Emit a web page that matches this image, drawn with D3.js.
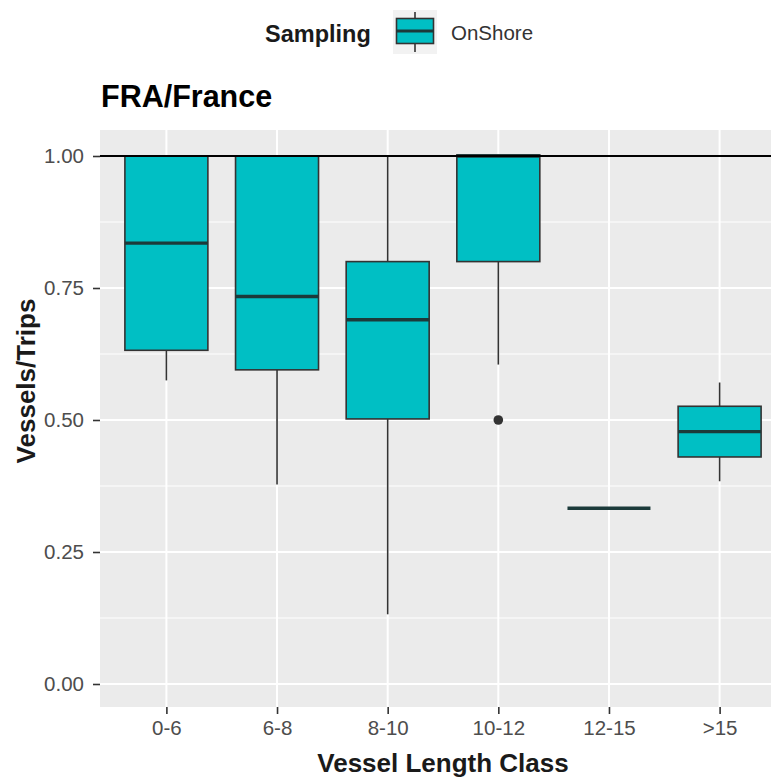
<!DOCTYPE html>
<html>
<head>
<meta charset="utf-8">
<script src="https://cdn.jsdelivr.net/npm/d3@7"></script>
<style>
  html, body { margin: 0; padding: 0; background: #ffffff; }
  svg { display: block; font-family: "Liberation Sans", Arial, sans-serif; }
</style>
</head>
<body>
<svg id="chart" width="771" height="783"></svg>
<script>
// ---- data ----
const categories = ["0-6", "6-8", "8-10", "10-12", "12-15", ">15"];
const lowerWhisker = [0.575, 0.378, 0.132, 0.605, 0.333, 0.384];
const lowerHinge   = [0.632, 0.595, 0.502, 0.800, 0.333, 0.430];
const medians      = [0.835, 0.734, 0.690, 1.000, 0.333, 0.478];
const upperHinge   = [1.000, 1.000, 0.800, 1.002, 0.333, 0.526];
const upperWhisker = [1.000, 1.000, 1.000, 1.002, 0.333, 0.571];
const outliers = [{cat: "10-12", value: 0.5}];
const yTicks = [0, 0.25, 0.5, 0.75, 1];
const yMinor = [0.125, 0.375, 0.625, 0.875];
const refLine = 1.0;
const seriesName = "OnShore";

// ---- layout ----
const svg = d3.select("#chart");
const panel = {left: 100, right: 786, top: 130, bottom: 707};
const fill = "#00BFC4";
const ink = "#333333";

const x = d3.scalePoint().domain(categories).range([panel.left, panel.right]).padding(0.6);
const y = d3.scaleLinear().domain([0, 1]).range([684, 156]);
const boxW = x.step() * 0.75;

// panel background
svg.append("rect").attr("x", panel.left).attr("y", panel.top)
  .attr("width", panel.right - panel.left).attr("height", panel.bottom - panel.top)
  .attr("fill", "#EBEBEB");

// grid
const g = svg.append("g");
g.selectAll("line.minor").data(yMinor).join("line")
  .attr("x1", panel.left).attr("x2", panel.right)
  .attr("y1", d => y(d)).attr("y2", d => y(d))
  .attr("stroke", "#fff").attr("stroke-width", 1);
g.selectAll("line.majorY").data(yTicks).join("line")
  .attr("x1", panel.left).attr("x2", panel.right)
  .attr("y1", d => y(d)).attr("y2", d => y(d))
  .attr("stroke", "#fff").attr("stroke-width", 2);
g.selectAll("line.majorX").data(categories).join("line")
  .attr("x1", d => x(d)).attr("x2", d => x(d))
  .attr("y1", panel.top).attr("y2", panel.bottom)
  .attr("stroke", "#fff").attr("stroke-width", 2);

// boxes
const boxes = categories.map((c, i) => ({
  c, lw: lowerWhisker[i], q1: lowerHinge[i], med: medians[i], q3: upperHinge[i], uw: upperWhisker[i]
}));
const bg = svg.append("g");
bg.selectAll("line.wl").data(boxes).join("line")
  .attr("x1", d => x(d.c)).attr("x2", d => x(d.c))
  .attr("y1", d => y(d.lw)).attr("y2", d => y(d.q1))
  .attr("stroke", ink).attr("stroke-width", 1.6);
bg.selectAll("line.wu").data(boxes).join("line")
  .attr("x1", d => x(d.c)).attr("x2", d => x(d.c))
  .attr("y1", d => y(d.q3)).attr("y2", d => y(d.uw))
  .attr("stroke", ink).attr("stroke-width", 1.6);
bg.selectAll("rect.box").data(boxes).join("rect")
  .attr("x", d => x(d.c) - boxW / 2).attr("width", boxW)
  .attr("y", d => y(d.q3)).attr("height", d => Math.max(0, y(d.q1) - y(d.q3)))
  .attr("fill", fill).attr("stroke", ink).attr("stroke-width", 1.6);
bg.selectAll("line.med").data(boxes).join("line")
  .attr("x1", d => x(d.c) - boxW / 2).attr("x2", d => x(d.c) + boxW / 2)
  .attr("y1", d => y(d.med)).attr("y2", d => y(d.med))
  .attr("stroke", "#1c3a3a").attr("stroke-width", 3.4);
bg.selectAll("circle.out").data(outliers).join("circle")
  .attr("cx", d => x(d.cat)).attr("cy", d => y(d.value)).attr("r", 4.8)
  .attr("fill", ink);

// reference line
svg.append("line").attr("x1", panel.left).attr("x2", panel.right)
  .attr("y1", y(refLine)).attr("y2", y(refLine))
  .attr("stroke", "#000").attr("stroke-width", 2);

// y axis
const yAxis = svg.append("g").attr("transform", `translate(${panel.left},0)`)
  .call(d3.axisLeft(y).tickValues(yTicks).tickFormat(d3.format(".2f")).tickSize(7).tickPadding(9));
yAxis.select(".domain").remove();
yAxis.selectAll(".tick line").attr("stroke", ink).attr("stroke-width", 1.6);
yAxis.selectAll(".tick text").attr("fill", "#4D4D4D").style("font-size", "20.5px")
  .style("font-family", "Liberation Sans, Arial, sans-serif");

// x axis
const xAxis = svg.append("g").attr("transform", `translate(0,${panel.bottom})`)
  .call(d3.axisBottom(x).tickSize(7).tickPadding(6));
xAxis.select(".domain").remove();
xAxis.selectAll(".tick line").attr("stroke", ink).attr("stroke-width", 1.6);
xAxis.selectAll(".tick text").attr("fill", "#4D4D4D").style("font-size", "20.5px")
  .style("font-family", "Liberation Sans, Arial, sans-serif");

// axis titles
svg.append("text").attr("x", (panel.left + panel.right) / 2).attr("y", 772)
  .attr("text-anchor", "middle").attr("font-weight", "bold").attr("font-size", 26)
  .attr("fill", "#1A1A1A").text("Vessel Length Class");
svg.append("text").attr("transform", "translate(35,381) rotate(-90)")
  .attr("text-anchor", "middle").attr("font-weight", "bold").attr("font-size", 26)
  .attr("fill", "#1A1A1A").text("Vessels/Trips");

// title
svg.append("text").attr("x", 101).attr("y", 107)
  .attr("font-weight", "bold").attr("font-size", 30.5).attr("fill", "#000")
  .text("FRA/France");

// legend
svg.append("text").attr("x", 265).attr("y", 42)
  .attr("font-weight", "bold").attr("font-size", 23.5).attr("fill", "#1A1A1A")
  .text("Sampling");
const lg = svg.append("g").attr("transform", "translate(393,10)");
lg.append("rect").attr("width", 44).attr("height", 44).attr("fill", "#F2F2F2");
lg.append("line").attr("x1", 22).attr("x2", 22).attr("y1", 2).attr("y2", 42)
  .attr("stroke", ink).attr("stroke-width", 1.6);
lg.append("rect").attr("x", 3.5).attr("y", 8.5).attr("width", 37).attr("height", 25)
  .attr("fill", fill).attr("stroke", ink).attr("stroke-width", 1.6);
lg.append("line").attr("x1", 3.5).attr("x2", 40.5).attr("y1", 21).attr("y2", 21)
  .attr("stroke", "#1c3a3a").attr("stroke-width", 3);
svg.append("text").attr("x", 451).attr("y", 40)
  .attr("font-size", 20.5).attr("fill", "#333333").text(seriesName);
</script>
</body>
</html>
